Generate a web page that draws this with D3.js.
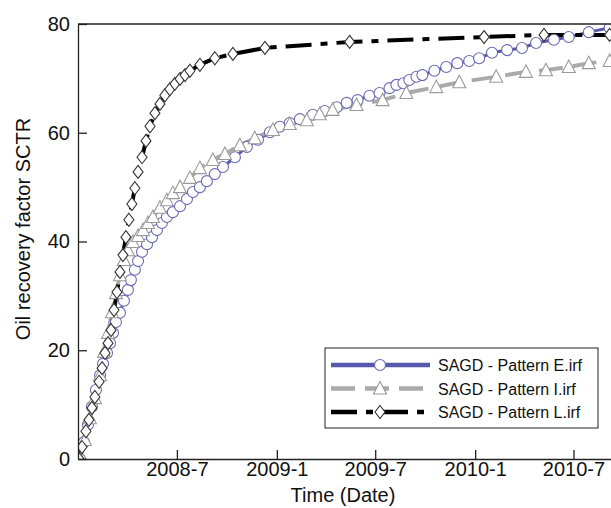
<!DOCTYPE html>
<html>
<head>
<meta charset="utf-8">
<script src="https://cdn.jsdelivr.net/npm/d3@7"></script>
<style>
  body { margin: 0; background: #fff; }
  text { font-family: "Liberation Sans", Arial, Helvetica, sans-serif; fill: #111; }
</style>
</head>
<body>
<svg id="chart" width="611" height="508"></svg>
<script>
// time as decimal years, recovery factor in %
const patternE_t = [2008.010, 2008.030, 2008.050, 2008.070, 2008.090, 2008.111, 2008.126, 2008.146, 2008.161, 2008.176,
  2008.191, 2008.211, 2008.231, 2008.251, 2008.266, 2008.286, 2008.302, 2008.322, 2008.347, 2008.372,
  2008.397, 2008.422, 2008.447, 2008.477, 2008.513, 2008.548, 2008.578, 2008.613, 2008.648, 2008.688,
  2008.729, 2008.789, 2008.849, 2008.905, 2008.965, 2009.015, 2009.065, 2009.116, 2009.181, 2009.241,
  2009.302, 2009.352, 2009.407, 2009.467, 2009.518, 2009.568, 2009.603, 2009.638, 2009.668, 2009.704,
  2009.734, 2009.794, 2009.854, 2009.910, 2009.970, 2010.020, 2010.085, 2010.161, 2010.236, 2010.307,
  2010.397, 2010.472, 2010.573, 2010.678]
const patternE_v = [0, 3.1, 6.3, 9.6, 12.7, 15.4, 17.5, 19.5, 21.3, 23.2,
  25.2, 26.9, 29.1, 31.1, 32.9, 34.8, 36.4, 38.1, 39.5, 40.8,
  42.1, 43.4, 44.5, 45.4, 46.5, 47.8, 49.1, 50.0, 51.1, 52.4,
  53.7, 55.5, 57.4, 58.7, 60.1, 61.1, 61.8, 62.5, 63.3, 64.0,
  64.7, 65.5, 66.0, 66.8, 67.3, 68.2, 68.8, 69.1, 69.7, 70.3,
  70.6, 71.4, 72.1, 72.8, 73.2, 73.7, 74.7, 75.2, 75.6, 76.5,
  77.1, 77.6, 78.5, 79.3]

const patternI_t = [2008.010, 2008.035, 2008.060, 2008.085, 2008.111, 2008.131, 2008.151, 2008.171, 2008.191, 2008.211,
  2008.231, 2008.251, 2008.276, 2008.302, 2008.327, 2008.352, 2008.377, 2008.412, 2008.447, 2008.477,
  2008.513, 2008.563, 2008.613, 2008.678, 2008.739, 2008.814, 2008.889, 2008.980, 2009.065, 2009.151,
  2009.216, 2009.281, 2009.402, 2009.533, 2009.653, 2009.804, 2009.920, 2010.106, 2010.256, 2010.357,
  2010.472, 2010.573, 2010.678]
const patternI_v = [0, 3.5, 7.5, 11.2, 15.4, 19.7, 23.2, 27.0, 30.5, 33.8,
  36.6, 38.4, 39.9, 41.0, 42.1, 43.4, 44.5, 46.2, 47.6, 48.9,
  50.0, 51.7, 53.5, 55.0, 56.1, 57.7, 59.0, 60.5, 61.6, 62.3,
  63.4, 64.2, 65.1, 66.0, 67.3, 68.4, 69.3, 70.3, 71.2, 71.5,
  72.1, 72.8, 73.2]

const patternL_t = [2008.005, 2008.020, 2008.040, 2008.055, 2008.070, 2008.085, 2008.106, 2008.121, 2008.136, 2008.151,
  2008.166, 2008.181, 2008.196, 2008.211, 2008.226, 2008.241, 2008.256, 2008.271, 2008.286, 2008.302,
  2008.322, 2008.342, 2008.362, 2008.387, 2008.412, 2008.437, 2008.462, 2008.487, 2008.513, 2008.538,
  2008.563, 2008.613, 2008.688, 2008.779, 2008.940, 2009.367, 2010.045, 2010.347, 2010.678]
const patternL_v = [0, 2.2, 5.1, 7.2, 9.4, 11.4, 14.2, 16.7, 19.5, 21.3,
  23.7, 27.4, 30.7, 34.4, 37.5, 40.8, 44.0, 46.9, 49.8, 52.8,
  55.5, 58.5, 61.2, 63.6, 65.3, 66.9, 68.0, 69.0, 69.9, 70.6,
  71.4, 72.5, 73.7, 74.5, 75.6, 76.7, 77.6, 78.0, 78.0]

const seriesNames = ['SAGD - Pattern E.irf', 'SAGD - Pattern I.irf', 'SAGD - Pattern L.irf']
const xTickDates = ['2008-07-01', '2009-01-01', '2009-07-01', '2010-01-01', '2010-07-01']
const yTicks = [0, 20, 40, 60, 80]

function yearToDate(yv) {
  const yr = Math.floor(yv)
  const a = new Date(yr, 0, 1).getTime(), b = new Date(yr + 1, 0, 1).getTime()
  return new Date(a + (yv - yr) * (b - a))
}
function zip(ts, vs) { return ts.map((t, i) => ({ date: yearToDate(t), value: vs[i] })) }

const series = [
  { name: seriesNames[0], data: zip(patternE_t, patternE_v), color: '#5858ac', dash: null, marker: 'circle', mstroke: '#6a6ab4' },
  { name: seriesNames[1], data: zip(patternI_t, patternI_v), color: '#aaaaaa', dash: '24,10', marker: 'triangle', mstroke: '#9a9a9a' },
  { name: seriesNames[2], data: zip(patternL_t, patternL_v), color: '#000000', dash: '26,9,7,9', marker: 'diamond', mstroke: '#333333' }
]

const plotLeft = 78, plotRight = 611, plotTop = 24, plotBottom = 459
const svg = d3.select('#chart')

const x = d3.scaleTime()
  .domain([new Date(2008, 0, 1), new Date(2010, 8, 8)])
  .range([plotLeft, plotRight])
const y = d3.scaleLinear().domain([0, 80]).range([plotBottom, plotTop])

svg.append('defs').append('clipPath').attr('id', 'plot')
  .append('rect').attr('x', plotLeft).attr('y', plotTop)
  .attr('width', plotRight - plotLeft).attr('height', plotBottom - plotTop)

function markerPath(kind) {
  if (kind === 'circle') return 'M5.5,0A5.5,5.5 0 1,1 -5.5,0A5.5,5.5 0 1,1 5.5,0Z'
  if (kind === 'triangle') return 'M0,-7L6.5,5.5L-6.5,5.5Z'
  return 'M0,-6.5L5,0L0,6.5L-5,0Z'
}

const line = d3.line().x((d) => x(d.date)).y((d) => y(d.value))

const plot = svg.append('g').attr('clip-path', 'url(#plot)')

series.forEach((s) => {
  plot.append('path')
    .datum(s.data)
    .attr('fill', 'none')
    .attr('stroke', s.color)
    .attr('stroke-width', s.marker === 'circle' ? 3 : 4)
    .attr('stroke-dasharray', s.dash)
    .attr('d', line)
})
series.forEach((s) => {
  plot.selectAll('.m-' + s.marker)
    .data(s.data)
    .enter()
      .append('path')
      .attr('class', 'm-' + s.marker)
      .attr('d', markerPath(s.marker))
      .attr('transform', (d) => `translate(${x(d.date)},${y(d.value)})`)
      .attr('fill', '#fff')
      .attr('stroke', s.mstroke)
      .attr('stroke-width', 1.1)
})

// axes, ticks drawn inward
const fmt = (d) => d.getFullYear() + '-' + (d.getMonth() + 1)
const xAxis = d3.axisBottom(x)
  .tickValues(xTickDates.map((s) => new Date(s + 'T00:00:00')))
  .tickFormat(fmt)
  .tickSizeInner(-9).tickSizeOuter(0).tickPadding(3)
const gx = svg.append('g').attr('transform', `translate(0,${plotBottom})`).call(xAxis)

const yAxis = d3.axisLeft(y).tickValues(yTicks).tickSizeInner(-9).tickSizeOuter(0).tickPadding(8)
const gy = svg.append('g').attr('transform', `translate(${plotLeft},0)`).call(yAxis)

;[gx, gy].forEach((g) => {
  g.selectAll('text').style('font-size', '20px').attr('fill', '#111')
  g.selectAll('line, path').attr('stroke', '#222').attr('stroke-width', 1.3)
})

svg.append('line')
  .attr('x1', plotLeft).attr('x2', plotRight).attr('y1', plotTop).attr('y2', plotTop)
  .attr('stroke', '#222').attr('stroke-width', 1.3)

svg.append('text')
  .attr('x', 343).attr('y', 502)
  .attr('text-anchor', 'middle')
  .style('font-size', '20px')
  .text('Time (Date)')

svg.append('text')
  .attr('transform', 'translate(30,229) rotate(-90)')
  .attr('text-anchor', 'middle')
  .style('font-size', '20px')
  .text('Oil recovery factor SCTR')

// legend
const legend = svg.append('g').attr('transform', 'translate(325,348)')
legend.append('rect')
  .attr('width', 273).attr('height', 80)
  .attr('fill', '#fff').attr('stroke', '#222').attr('stroke-width', 1)

series.forEach((s, i) => {
  const row = legend.append('g').attr('transform', `translate(0,${17 + i * 23.5})`)
  row.append('line')
    .attr('x1', 6).attr('x2', 105)
    .attr('stroke', s.color)
    .attr('stroke-width', 4.5)
    .attr('stroke-dasharray', s.dash)
  row.append('path')
    .attr('d', markerPath(s.marker))
    .attr('transform', 'translate(55,0)')
    .attr('fill', '#fff').attr('stroke', s.mstroke).attr('stroke-width', 1.1)
  row.append('text')
    .attr('x', 113).attr('y', 6)
    .style('font-size', '16px')
    .text(s.name)
})
</script>
</body>
</html>
